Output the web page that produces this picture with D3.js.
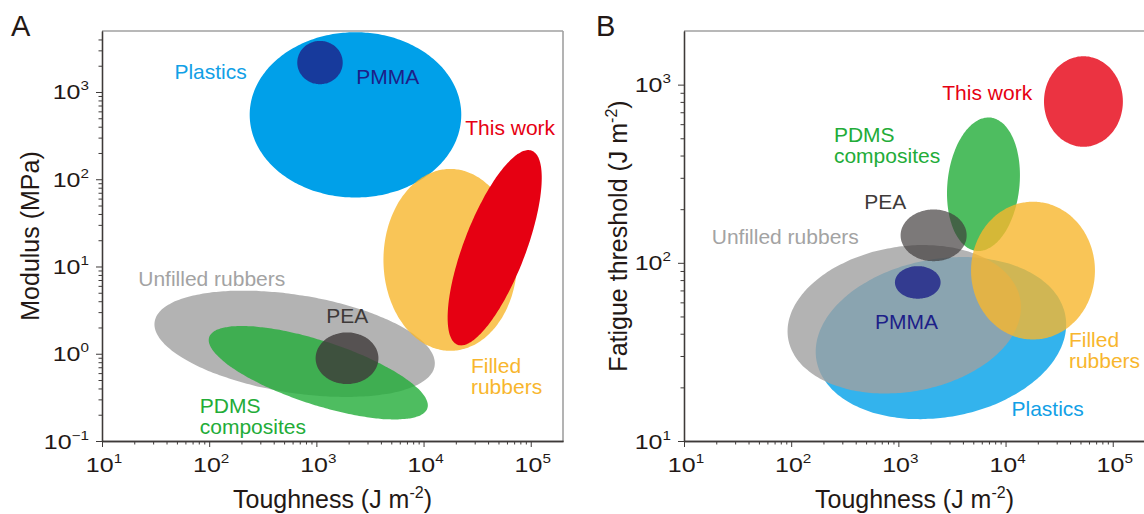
<!DOCTYPE html>
<html><head><meta charset="utf-8">
<script src="https://cdn.jsdelivr.net/npm/d3@7"></script>
<style>
body{margin:0;background:#fff}
svg{display:block;font-family:"Liberation Sans",Arial,Helvetica,sans-serif}
</style></head><body>
<svg id="chart" width="1144" height="514"></svg>
<script>
// ---------------- DATA ----------------
const regions = ["Plastics","PMMA","Unfilled rubbers","PDMS composites","PEA","Filled rubbers","This work"];
const labelLines = [["Plastics"],["PMMA"],["Unfilled rubbers"],["PDMS","composites"],["PEA"],["Filled","rubbers"],["This work"]];

// Panel A: modulus (MPa) vs toughness (J m^-2) — region centres, semi-axis vectors (decades)
const aToughness = [2317, 1081, 627, 1042, 1932, 17780, 46100];
const aModulus   = [547, 2173, 1.30, 0.606, 0.888, 11.9, 16.4];
const aAxisU = [[0.987,0],[0.212,0],[1.306,-0.254],[1.018,-0.407],[0.293,0],[0.624,0],[0.347,1.112]];
const aAxisV = [[0,0.947],[0,0.248],[-0.0713,-0.554],[-0.092,-0.348],[0,0.296],[0,1.042],[0.269,-0.127]];
const aLabelToughness = [103, 4634, 105.7, 81.7, 1941, 27670, 64300];
const aLabelModulus   = [1413, 1239, 5.90, 0.209, 2.25, 0.601, 322.7];

// Panel B: fatigue threshold (J m^-2) vs toughness (J m^-2)
const bToughness = [2495, 1517, 1135, 6223, 2133, 18030, 53300];
const bThreshold = [37.8, 77.6, 48.2, 276, 142.6, 90.4, 804];
const bAxisU = [[1.161,0.126],[0.213,0],[1.083,0.109],[0.065,0.374],[0.308,0],[0.578,0],[0.368,0]];
const bAxisV = [[0.131,-0.437],[0,0.0914],[0.112,-0.402],[0.334,-0.021],[0,0.145],[0,0.387],[0,0.254]];
const bLabelToughness = [24710, 1191, 88.1, 250.6, 755, 38990, 6745];
const bLabelThreshold = [13.8, 42.6, 127.8, 475, 200.9, 33.8, 825];

// Axis tick exponents
const xTickExp  = [1, 2, 3, 4, 5];
const yTickExpA = [-1, 0, 1, 2, 3];
const yTickExpB = [1, 2, 3];

// ---------------- STYLE ----------------
const fills = ["#00a0e9","#1d2088","#a0a0a0","#22ac38","#3e3a39","#f8b62d","#e60012"];
const labelColors = ["#11a0e6","#1d2088","#a3a3a3","#22ac38","#3e3a39","#f8b62d","#e60012"];
const labelAnchor = ["middle","middle","middle","start","middle","start","middle"];
const opacityA = [1,0.8,0.8,0.8,0.8,0.8,1];
const opacityB = [0.8,0.8,0.8,0.8,0.68,0.8,0.8];
const drawOrderA = [0,1,2,3,4,5,6];
const drawOrderB = [0,2,1,3,4,5,6];

const axisColor = "#3e3a39";
const frameColor = "#a0a0a0";
const svg = d3.select("#chart");

function minorTicks(lo, hi) {
  const out = [];
  for (let e = Math.floor(Math.log10(lo)); e <= Math.ceil(Math.log10(hi)); e++) {
    for (let k = 2; k <= 9; k++) {
      const v = k * Math.pow(10, e);
      if (v > lo * 1.0001 && v < hi * 0.9999) out.push(v);
    }
  }
  return out;
}

function ellipsePath(x, y, cx, cy, U, V) {
  const lx = Math.log10(cx), ly = Math.log10(cy);
  const pts = d3.range(0, 160).map(i => {
    const t = i / 160 * 2 * Math.PI;
    return [x(Math.pow(10, lx + U[0]*Math.cos(t) + V[0]*Math.sin(t))),
            y(Math.pow(10, ly + U[1]*Math.cos(t) + V[1]*Math.sin(t)))];
  });
  return d3.line().curve(d3.curveCardinalClosed.tension(0))(pts);
}

function drawPanel(cfg) {
  const g = svg.append("g");
  const x = d3.scaleLog().domain(cfg.xDomain).range(cfg.xRange);
  const y = d3.scaleLog().domain(cfg.yDomain).range([441, 31]);

  const clipId = "clip" + cfg.id;
  svg.append("clipPath").attr("id", clipId).append("rect")
    .attr("x", cfg.xRange[0]).attr("y", 31)
    .attr("width", cfg.xRange[1]-cfg.xRange[0]).attr("height", 410);

  const shapes = g.append("g").attr("clip-path", `url(#${clipId})`);
  cfg.order.forEach(i => {
    shapes.append("path")
      .attr("d", ellipsePath(x, y, cfg.cx[i], cfg.cy[i], cfg.U[i], cfg.V[i]))
      .attr("fill", fills[i]).attr("fill-opacity", cfg.opacity[i]);
  });

  // labels
  regions.forEach((r, i) => {
    const t = g.append("text")
      .attr("x", x(cfg.lx[i])).attr("y", y(cfg.ly[i]))
      .attr("text-anchor", labelAnchor[i])
      .attr("fill", labelColors[i])
      .style("font-size", "21px");
    labelLines[i].forEach((line, j) => {
      t.append("tspan").attr("x", x(cfg.lx[i])).attr("dy", j === 0 ? 0 : 21).text(line);
    });
  });

  // frame (top & right)
  g.append("line").attr("x1", cfg.xRange[0]).attr("x2", cfg.xRange[1]).attr("y1", 31).attr("y2", 31)
    .attr("stroke", frameColor).attr("stroke-width", 1.6);
  g.append("line").attr("x1", cfg.xRange[1]).attr("x2", cfg.xRange[1]).attr("y1", 31).attr("y2", 441)
    .attr("stroke", frameColor).attr("stroke-width", 1.6);

  // axes
  const xMajor = xTickExp.map(e => Math.pow(10, e));
  const yMajor = cfg.yExp.map(e => Math.pow(10, e));
  const styleAxis = s => {
    s.selectAll("path").attr("stroke", axisColor).attr("stroke-width", 1.3);
    s.selectAll("line").attr("stroke", axisColor).attr("stroke-width", 1);
  };
  g.append("g").attr("transform", "translate(0,441)")
    .call(d3.axisBottom(x).tickValues(minorTicks(cfg.xDomain[0], cfg.xDomain[1])).tickSize(3.5).tickSizeOuter(0).tickFormat(""))
    .call(styleAxis);
  g.append("g").attr("transform", "translate(0,441)")
    .call(d3.axisBottom(x).tickValues(xMajor).tickSize(6).tickSizeOuter(0).tickFormat(""))
    .call(styleAxis);
  g.append("g").attr("transform", `translate(${cfg.xRange[0]},0)`)
    .call(d3.axisLeft(y).tickValues(minorTicks(cfg.yDomain[0], cfg.yDomain[1])).tickSize(3.5).tickSizeOuter(0).tickFormat(""))
    .call(styleAxis);
  g.append("g").attr("transform", `translate(${cfg.xRange[0]},0)`)
    .call(d3.axisLeft(y).tickValues(yMajor).tickSize(6).tickSizeOuter(0).tickFormat(""))
    .call(styleAxis);

  // tick labels (10^n)
  const expText = e => (e < 0 ? "\u2212" + Math.abs(e) : String(e));
  xTickExp.forEach(e => {
    const t = g.append("text")
      .attr("transform", `translate(${x(Math.pow(10, e)) + 2},472) scale(1.22,1)`)
      .attr("text-anchor", "middle").attr("fill", "#231815").style("font-size", "20.5px");
    t.append("tspan").text("10");
    t.append("tspan").attr("dy", -9).style("font-size", "12.5px").text(expText(e));
  });
  cfg.yExp.forEach(e => {
    const t = g.append("text")
      .attr("transform", `translate(${cfg.xRange[0] - 13},${y(Math.pow(10, e)) + 7.5}) scale(1.22,1)`)
      .attr("text-anchor", "end").attr("fill", "#231815").style("font-size", "20.5px");
    t.append("tspan").text("10");
    t.append("tspan").attr("dy", -9).style("font-size", "12.5px").text(expText(e));
  });

  // axis titles
  const xt = g.append("text")
    .attr("x", (cfg.xRange[0] + cfg.xRange[1]) / 2).attr("y", 508)
    .attr("text-anchor", "middle").attr("fill", "#231815").style("font-size", "25px");
  xt.append("tspan").text("Toughness (J m");
  xt.append("tspan").attr("dy", -10).style("font-size", "16px").text("-2");
  xt.append("tspan").attr("dy", 10).text(")");

  const yt = g.append("text")
    .attr("transform", `translate(${cfg.yTitleX},236) rotate(-90)`)
    .attr("text-anchor", "middle").attr("fill", "#231815").style("font-size", "25px");
  cfg.yTitle.forEach(p => {
    const ts = yt.append("tspan").text(p.t);
    if (p.sup) ts.attr("dy", -10).style("font-size", "16px");
    if (p.down) ts.attr("dy", 10);
  });

  // panel letter
  g.append("text").attr("x", cfg.letterX).attr("y", 36).attr("fill", "#231815")
    .style("font-size", "29px").text(cfg.letter);
}

drawPanel({
  id: "A", letter: "A", letterX: 11,
  xDomain: [10, 2e5], xRange: [102, 563],
  yDomain: [0.1, 5000], yExp: yTickExpA,
  cx: aToughness, cy: aModulus, U: aAxisU, V: aAxisV,
  lx: aLabelToughness, ly: aLabelModulus,
  opacity: opacityA, order: drawOrderA,
  yTitleX: 39, yTitle: [{t: "Modulus (MPa)"}]
});

drawPanel({
  id: "B", letter: "B", letterX: 596,
  xDomain: [10, 2e5], xRange: [684, 1145],
  yDomain: [10, 2000], yExp: yTickExpB,
  cx: bToughness, cy: bThreshold, U: bAxisU, V: bAxisV,
  lx: bLabelToughness, ly: bLabelThreshold,
  opacity: opacityB, order: drawOrderB,
  yTitleX: 627, yTitle: [{t: "Fatigue threshold (J m"}, {t: "-2", sup: true}, {t: ")", down: true}]
});
</script>
</body></html>
